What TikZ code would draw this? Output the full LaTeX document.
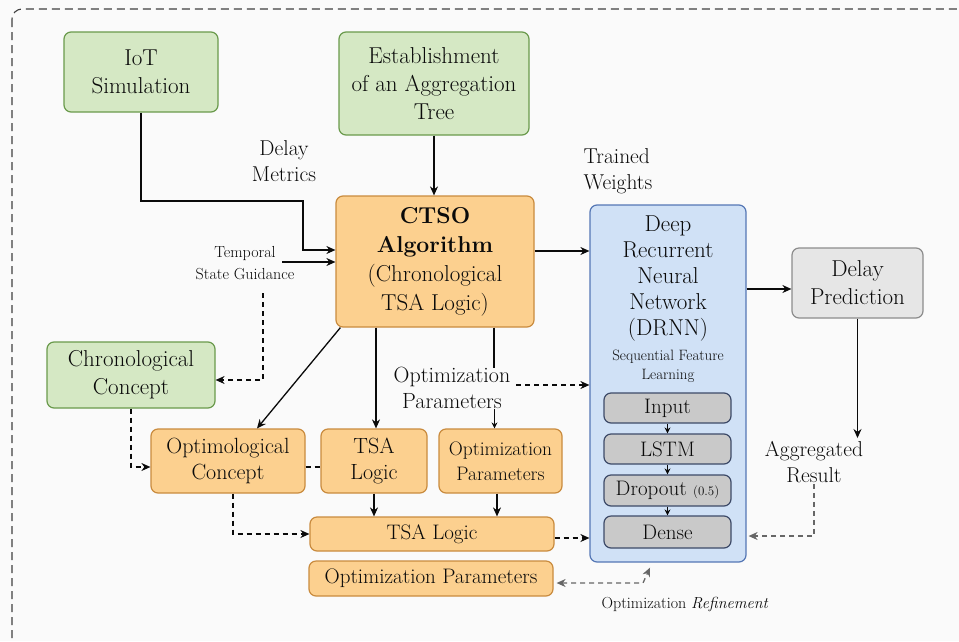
\documentclass[tikz,border=0pt]{standalone}
\usetikzlibrary{arrows.meta,calc}
\definecolor{gfill}{HTML}{D5E8C4}
\definecolor{gline}{HTML}{6A9A4C}
\definecolor{ofill}{HTML}{FCD08F}
\definecolor{oline}{HTML}{C98B3E}
\definecolor{bfill}{HTML}{D0E1F6}
\definecolor{bline}{HTML}{5577B5}
\definecolor{pfill}{HTML}{E6E6E6}
\definecolor{pline}{HTML}{8C8C8C}
\definecolor{ifill}{HTML}{C9C9C9}
\definecolor{iline}{HTML}{3D4A68}
\definecolor{bgc}{HTML}{FAFAFA}
\definecolor{ink}{HTML}{0A0A0A}
\newcommand\fBig{\fontsize{23}{28}\selectfont}
\newcommand\fMid{\fontsize{21.5}{26}\selectfont}
\newcommand\fSm{\fontsize{16}{22}\selectfont}
\newcommand\fXs{\fontsize{15}{19}\selectfont}
\begin{document}
\begin{tikzpicture}[x=1pt,y=-1pt,
  box/.style={rounded corners=7pt, line width=1.2pt, align=center, inner sep=1pt, text=ink},
  gbox/.style={box, fill=gfill, draw=gline, font=\fBig},
  obox/.style={box, fill=ofill, draw=oline, font=\fBig},
  ibox/.style={box, fill=ifill, draw=iline, minimum width=127pt, font=\fontsize{21}{25}\selectfont},
  lbl/.style={align=center, text=ink, inner sep=1pt, font=\fMid},
  arr/.style={-{Stealth[length=9pt,width=8pt]}, line width=1.3pt, draw=ink},
  sarr/.style={-{Stealth[length=6pt,width=6pt]}, line width=1.1pt, draw=ink},
  darr/.style={arr, dash pattern=on 5pt off 4pt},
  garr/.style={darr, draw=black!60},
]
\useasboundingbox (0,0) rectangle (959,641);
\clip (0,0) rectangle (959,641);
\fill[bgc] (0,0) rectangle (959,641);
\draw[line width=1.1pt, draw=black!75, dash pattern=on 8pt off 5pt, rounded corners=10pt] (12,9) rectangle (975,648);

% nodes
\node[gbox, minimum width=154pt, minimum height=80pt] (iot) at (141,72) {IoT\\Simulation};
\node[gbox, minimum width=190pt, minimum height=103pt] (est) at (434,83.5) {Establishment\\of an Aggregation\\Tree};
\node[obox, minimum width=198pt, minimum height=131pt, font=\fontsize{23}{29}\selectfont] (ctso) at (435,261.5) {\textbf{CTSO}\\\textbf{Algorithm}\\(Chronological\\TSA Logic)};
\node[box, fill=bfill, draw=bline, minimum width=156pt, minimum height=357pt] (drnn) at (668,383.5) {};
\node[lbl, font=\fontsize{23}{26}\selectfont] (drnnt) at (668,279) {Deep\\Recurrent\\Neural\\Network\\(DRNN)};
\node[lbl, font=\fXs] (seq) at (668,366) {Sequential Feature\\Learning};
\node[box, fill=pfill, draw=pline, minimum width=131pt, minimum height=70pt, font=\fBig] (pred) at (857.5,283) {Delay\\Prediction};
\node[gbox, minimum width=168pt, minimum height=66pt] (chrono) at (131,375) {Chronological\\Concept};
\node[obox, minimum width=154pt, minimum height=64pt, font=\fontsize{22}{26}\selectfont] (optc) at (228,461) {Optimological\\Concept};
\node[obox, minimum width=106pt, minimum height=64pt, font=\fontsize{22}{26}\selectfont] (tsas) at (374,461) {TSA\\Logic};
\node[obox, minimum width=123pt, minimum height=64pt, font=\fontsize{19.5}{25}\selectfont] (opps) at (500.5,461) {Optimization\\Parameters};
\node[obox, minimum width=244pt, minimum height=34pt, font=\fontsize{21}{25}\selectfont] (tsaw) at (432,534) {TSA Logic};
\node[obox, minimum width=244pt, minimum height=35pt, font=\fontsize{21}{25}\selectfont] (oppw) at (431,578.5) {Optimization Parameters};
\node[ibox, minimum height=30pt] (inp) at (667.5,408) {Input};
\node[ibox, minimum height=30pt] (lstm) at (667.5,449) {LSTM};
\node[ibox, minimum height=31pt] (drop) at (667.5,490.5) {Dropout {\fontsize{13}{15}\selectfont(0.5)}};
\node[ibox, minimum height=32pt] (dense) at (667.5,532) {Dense};

% labels
\node[lbl] (delaym) at (284,161) {Delay\\Metrics};
\node[lbl, align=left] (trained) at (618,171) {Trained\\Weights};
\node[lbl, font=\fSm] (temporal) at (245,263) {Temporal\\State Guidance};
\node[lbl, font=\fontsize{22}{26}\selectfont] (optlabel) at (452,388) {Optimization\\Parameters};
\node[lbl] (aggr) at (814,462) {Aggregated\\Result};
\node[lbl, font=\fSm] (refine) at (685,604) {Optimization \textit{Refinement}};

% coordinates
\coordinate (tsg) at (282,262);
\coordinate (tsgdown) at (263,293);
\coordinate (iotturn) at (303,201);
\coordinate (rfc) at (643,583);

% connectors
\draw[arr] (iot.south) |- (iotturn) |- ([yshift=11.5pt]ctso.west);
\draw[arr] (tsg) -- (tsg -| ctso.west);
\draw[darr] (tsgdown) |- ([yshift=-5pt]chrono.east);
\draw[arr] (est.south) -- (est.south |- ctso.north);
\path ([yshift=10.5pt]ctso.east) coordinate (c1);
\draw[arr] (c1) -- (c1 -| drnn.west);
\path ([yshift=-6pt]pred.west) coordinate (pw);
\draw[arr] (pw -| drnn.east) -- (pw);
\draw[arr] (pred.south) -- ([yshift=2pt]pred.south |- aggr.north);
\draw[garr] (aggr.south) |- ([xshift=2pt,yshift=-4pt]dense.east -| drnn.east);
\draw[arr] ([xshift=5pt]ctso.south west) -- ([xshift=29pt]optc.north);
\draw[arr] ([xshift=2pt]tsas.north |- ctso.south) -- ([xshift=2pt]tsas.north);
\draw[line width=1.3pt, draw=ink] ([xshift=-6.5pt]opps.north |- ctso.south) -- ([xshift=-6.5pt,yshift=-2pt]opps.north |- optlabel.north);
\draw[sarr] ([xshift=-6pt,yshift=1pt]opps.north |- optlabel.south) -- ([xshift=-6pt]opps.north);
\draw[darr] ([xshift=5pt,yshift=3pt]optlabel.east) -- ([yshift=3pt]optlabel.east -| drnn.west);
\draw[darr] (chrono.south) |- ([yshift=-6pt]optc.west);
\draw[line width=1.2pt, draw=ink, dash pattern=on 5pt off 4pt] ([yshift=-6pt]optc.east) -- ([yshift=-6pt]tsas.west);
\draw[darr] ([xshift=5pt]optc.south) |- (tsaw.west);
\draw[arr] (tsas.south) -- (tsas.south |- tsaw.north);
\draw[arr] ([xshift=-3.5pt]opps.south) -- ([xshift=-3.5pt]opps.south |- tsaw.north);
\draw[darr] ([yshift=-4pt]tsaw.east) -- ([yshift=-4pt]tsaw.east -| drnn.west);
\draw[garr, {Stealth[length=9pt,width=8pt]}-{Stealth[length=9pt,width=8pt]}] ([xshift=3pt,yshift=-4.5pt]oppw.east) -- (rfc) -- ([xshift=-18pt,yshift=-5pt]drnn.south);
\draw[sarr] (inp.south) -- (lstm.north);
\draw[sarr] (lstm.south) -- (drop.north);
\draw[sarr] (drop.south) -- (dense.north);
\end{tikzpicture}
\end{document}
